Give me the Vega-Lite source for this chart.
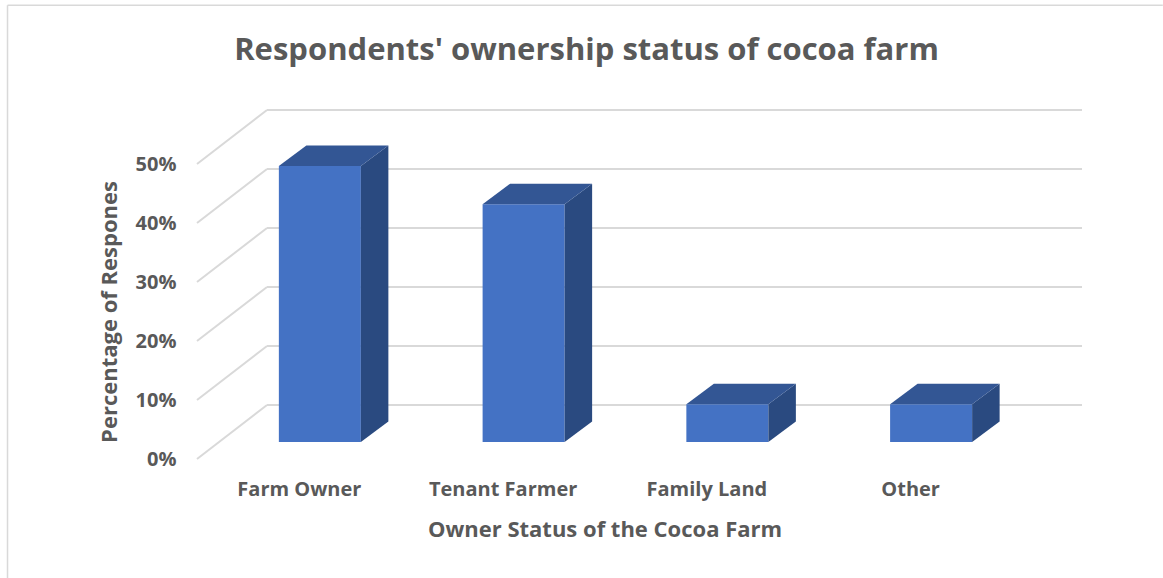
{
  "$schema": "https://vega.github.io/schema/vega-lite/v6.json",
  "width": 815,
  "height": 295,
  "autosize": "none",
  "padding": {"left": 197, "top": 164, "right": 151, "bottom": 119},
  "background": "#ffffff",
  "config": {"view": {"stroke": null}},
  "title": {
    "text": "Respondents' ownership status of cocoa farm",
    "font": "Open Sans",
    "fontSize": 31,
    "fontWeight": "bold",
    "color": "#595959",
    "anchor": "middle",
    "frame": "group",
    "dx": -18,
    "dy": 66
  },
  "params": [
    {"name": "wallX", "value": 0.3436},
    {"name": "wallY", "value": 9.15},
    {"name": "floorX", "value": 0.103},
    {"name": "floorY", "value": 2.88},
    {"name": "barW", "value": 0.4025},
    {"name": "barX", "value": 0.135},
    {"name": "barY", "value": 3.47}
  ],
  "datasets": {
    "levels": [{"level": 0}, {"level": 10}, {"level": 20}, {"level": 30}, {"level": 40}, {"level": 50}],
    "responses": [
      {"status": "Farm Owner", "share": 46.8},
      {"status": "Tenant Farmer", "share": 40.3},
      {"status": "Family Land", "share": 6.4},
      {"status": "Other", "share": 6.4}
    ],
    "border": [
      {"x0": -0.93, "x1": -0.93, "y0": -20.2, "y1": 76.9},
      {"x0": -0.93, "x1": 4.74, "y0": 76.9, "y1": 76.9}
    ]
  },
  "layer": [
    {
      "description": "Outer chart border on the top and left",
      "data": {"name": "border"},
      "mark": {"type": "rule", "color": "#d9d9d9", "strokeWidth": 1.5},
      "encoding": {
        "x": {
          "field": "x0", "type": "quantitative",
          "scale": {"domain": [0, 4], "nice": false, "zero": false},
          "axis": {
            "orient": "bottom",
            "values": [0.5, 1.5, 2.5, 3.5],
            "labelExpr": "['Farm Owner','Tenant Farmer','Family Land','Other'][datum.value - 0.5]",
            "title": "Owner Status of the Cocoa Farm",
            "domain": false, "ticks": false, "grid": false,
            "labelFont": "Open Sans", "labelFontSize": 20, "labelFontWeight": "bold", "labelColor": "#595959",
            "labelPadding": 20,
            "titleFont": "Open Sans", "titleFontSize": 22, "titleFontWeight": "bold", "titleColor": "#595959",
            "titlePadding": 20
          }
        },
        "x2": {"field": "x1"},
        "y": {
          "field": "y0", "type": "quantitative",
          "scale": {"domain": [0, 50], "nice": false, "zero": false},
          "axis": {
            "orient": "left",
            "values": [0, 10, 20, 30, 40, 50],
            "labelExpr": "datum.value + '%'",
            "title": "Percentage of Respones",
            "domain": false, "ticks": false, "grid": false,
            "labelFont": "Open Sans", "labelFontSize": 20, "labelFontWeight": "bold", "labelColor": "#595959",
            "labelPadding": 21,
            "titleFont": "Open Sans", "titleFontSize": 22, "titleFontWeight": "bold", "titleColor": "#595959",
            "titlePadding": 14
          }
        },
        "y2": {"field": "y1"}
      }
    },
    {
      "description": "Gridlines along the back wall",
      "data": {"name": "levels"},
      "transform": [
        {"calculate": "wallX", "as": "left"},
        {"calculate": "4 + wallX", "as": "right"},
        {"calculate": "datum.level + wallY", "as": "height"}
      ],
      "mark": {"type": "rule", "color": "#d9d9d9", "strokeWidth": 2},
      "encoding": {
        "x": {"field": "left", "type": "quantitative"},
        "x2": {"field": "right"},
        "y": {"field": "height", "type": "quantitative"}
      }
    },
    {
      "description": "Gridlines running up the side wall",
      "data": {"name": "levels"},
      "transform": [
        {"calculate": "0", "as": "left"},
        {"calculate": "wallX", "as": "right"},
        {"calculate": "datum.level + wallY", "as": "height"}
      ],
      "mark": {"type": "rule", "color": "#d9d9d9", "strokeWidth": 2},
      "encoding": {
        "x": {"field": "left", "type": "quantitative"},
        "x2": {"field": "right"},
        "y": {"field": "level", "type": "quantitative"},
        "y2": {"field": "height"}
      }
    },
    {
      "data": {"name": "responses"},
      "transform": [
        {"window": [{"op": "row_number", "as": "rank"}]},
        {"calculate": "datum.rank - 0.5 + floorX - barW / 2", "as": "xl"},
        {"calculate": "datum.xl + barW", "as": "xr"},
        {"calculate": "floorY", "as": "base"},
        {"calculate": "floorY + datum.share", "as": "top"}
      ],
      "layer": [
        {
          "description": "Front face of each bar",
          "mark": {"type": "rect", "color": "#4472c4"},
          "encoding": {
            "x": {"field": "xl", "type": "quantitative"},
            "x2": {"field": "xr"},
            "y": {"field": "base", "type": "quantitative"},
            "y2": {"field": "top"}
          }
        },
        {
          "description": "Right side face of each bar",
          "transform": [
            {"calculate": "[0, 1]", "as": "knot"},
            {"flatten": ["knot"]},
            {"calculate": "datum.xr + datum.knot * barX", "as": "fx"},
            {"calculate": "datum.base + datum.knot * barY", "as": "fy0"},
            {"calculate": "datum.top + datum.knot * barY", "as": "fy1"}
          ],
          "mark": {"type": "area", "color": "#2a4a80", "orient": "vertical"},
          "encoding": {
            "x": {"field": "fx", "type": "quantitative"},
            "y": {"field": "fy0", "type": "quantitative", "stack": null},
            "y2": {"field": "fy1"},
            "detail": {"field": "status"}
          }
        },
        {
          "description": "Top face of each bar",
          "transform": [
            {"calculate": "[0, 1, 2, 3]", "as": "knot"},
            {"flatten": ["knot"]},
            {"calculate": "datum.knot == 0 ? datum.xl : datum.knot == 1 ? datum.xl + barX : datum.knot == 2 ? datum.xr : datum.xr + barX", "as": "fx"},
            {"calculate": "datum.knot == 3 ? datum.top + barY : datum.top", "as": "fy0"},
            {"calculate": "datum.knot == 0 ? datum.top : datum.top + barY", "as": "fy1"}
          ],
          "mark": {"type": "area", "color": "#335694", "orient": "vertical"},
          "encoding": {
            "x": {"field": "fx", "type": "quantitative"},
            "y": {"field": "fy0", "type": "quantitative", "stack": null},
            "y2": {"field": "fy1"},
            "detail": {"field": "status"}
          }
        }
      ]
    }
  ]
}
